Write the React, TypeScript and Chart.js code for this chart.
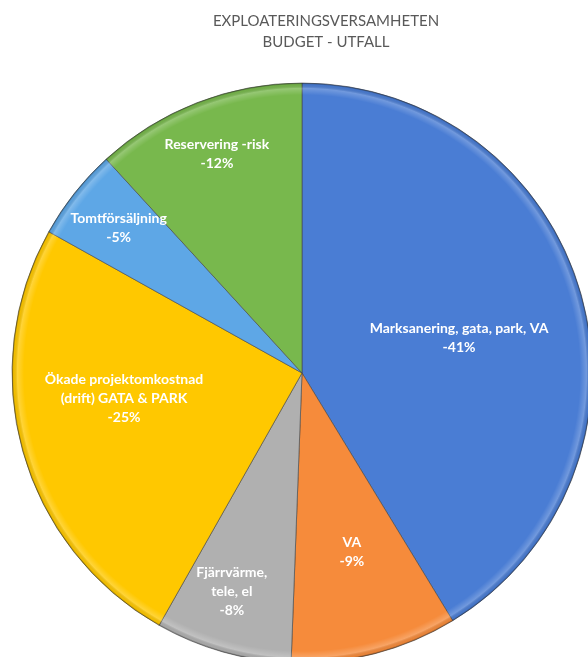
import { useEffect, useRef } from "react";
import { Chart, registerables } from "chart.js";

Chart.register(...registerables);

// ---- data ----
const titleLines = ["EXPLOATERINGSVERSAMHETEN", "BUDGET - UTFALL"];
const categories = [
  "Marksanering, gata, park, VA",
  "VA",
  "Fjärrvärme, tele, el",
  "Ökade projektomkostnad (drift) GATA & PARK",
  "Tomtförsäljning",
  "Reservering -risk",
];
const labelLines = [
  ["Marksanering, gata, park, VA"],
  ["VA"],
  ["Fjärrvärme,", "tele, el"],
  ["Ökade projektomkostnad", "(drift) GATA & PARK"],
  ["Tomtförsäljning"],
  ["Reservering -risk"],
];
const values = [-41.3, -9.3, -7.6, -24.9, -5.1, -11.8];

// ---- styles ----
const colors = ["#4a7dd4", "#f68b3b", "#b0b0b0", "#ffc800", "#5ea7e6", "#78b84d"];
const labelRadius = [0.555, 0.64, 0.79, 0.62, 0.806, 0.81];
const labelAngleShift = [3, -1, 2, 7.5, 0, 0];
const FONT = "Lato, 'Open Sans', sans-serif";

const titlePlugin = {
  id: "customTitle",
  afterDraw(chart: any) {
    const ctx = chart.ctx;
    ctx.save();
    ctx.fillStyle = "#595959";
    ctx.font = `15px ${FONT}`;
    ctx.textAlign = "center";
    ctx.textBaseline = "middle";
    const ys = [21, 42];
    titleLines.forEach((t, i) => ctx.fillText(t, 326, ys[i]));
    ctx.restore();
  },
};

const bevelPlugin = {
  id: "bevel",
  afterDatasetsDraw(chart: any) {
    const ctx = chart.ctx;
    const meta = chart.getDatasetMeta(0);
    meta.data.forEach((arc: any) => {
      const { x, y, startAngle, endAngle, outerRadius } = arc;
      ctx.save();
      ctx.beginPath();
      ctx.moveTo(x, y);
      ctx.arc(x, y, outerRadius, startAngle, endAngle);
      ctx.closePath();
      ctx.clip();
      const g = ctx.createRadialGradient(x, y, outerRadius - 12, x, y, outerRadius);
      g.addColorStop(0, "rgba(255,255,255,0)");
      g.addColorStop(0.55, "rgba(255,255,255,0.22)");
      g.addColorStop(0.85, "rgba(0,0,0,0.05)");
      g.addColorStop(1, "rgba(0,0,0,0.35)");
      ctx.fillStyle = g;
      ctx.fillRect(x - outerRadius, y - outerRadius, outerRadius * 2, outerRadius * 2);
      ctx.restore();
    });
  },
};

const labelPlugin = {
  id: "sliceLabels",
  afterDatasetsDraw(chart: any) {
    const ctx = chart.ctx;
    const meta = chart.getDatasetMeta(0);
    const total = values.reduce((s, v) => s + Math.abs(v), 0);
    ctx.save();
    ctx.fillStyle = "#ffffff";
    ctx.font = `bold 14px ${FONT}`;
    ctx.textAlign = "center";
    ctx.textBaseline = "middle";
    const lh = 19;
    meta.data.forEach((arc: any, i: number) => {
      const { x, y, startAngle, endAngle, outerRadius } = arc;
      const mid = (startAngle + endAngle) / 2 + (labelAngleShift[i] * Math.PI) / 180;
      const r = outerRadius * labelRadius[i];
      const cx = x + Math.cos(mid) * r;
      const cy = y + Math.sin(mid) * r;
      const pct = Math.round((Math.abs(values[i]) / total) * 100) * Math.sign(values[i]);
      const lines = [...labelLines[i], `${pct}%`];
      const top = cy - ((lines.length - 1) * lh) / 2;
      lines.forEach((l, k) => ctx.fillText(l, cx, top + k * lh));
    });
    ctx.restore();
  },
};

export default function App() {
  const ref = useRef<HTMLCanvasElement | null>(null);
  useEffect(() => {
    document.body.style.margin = "0";
    const canvas = ref.current;
    if (!canvas) return;
    const chart = new Chart(canvas, {
      type: "pie",
      data: {
        labels: categories,
        datasets: [
          {
            data: values,
            backgroundColor: colors,
            borderColor: "rgba(70,70,70,0.6)",
            borderWidth: 1,
            radius: 290,
          } as any,
        ],
      },
      options: {
        responsive: false,
        animation: false,
        layout: { padding: { left: 16, right: 0, top: 89, bottom: 0 } },
        plugins: {
          legend: { display: false },
          title: { display: false },
          tooltip: { enabled: false },
        },
      },
      plugins: [bevelPlugin, labelPlugin, titlePlugin],
    });
    return () => chart.destroy();
  }, []);
  return (
    <div style={{ width: 588, height: 657, overflow: "hidden", background: "#fff" }}>
      <canvas ref={ref} width={588} height={657} style={{ display: "block" }} />
    </div>
  );
}
